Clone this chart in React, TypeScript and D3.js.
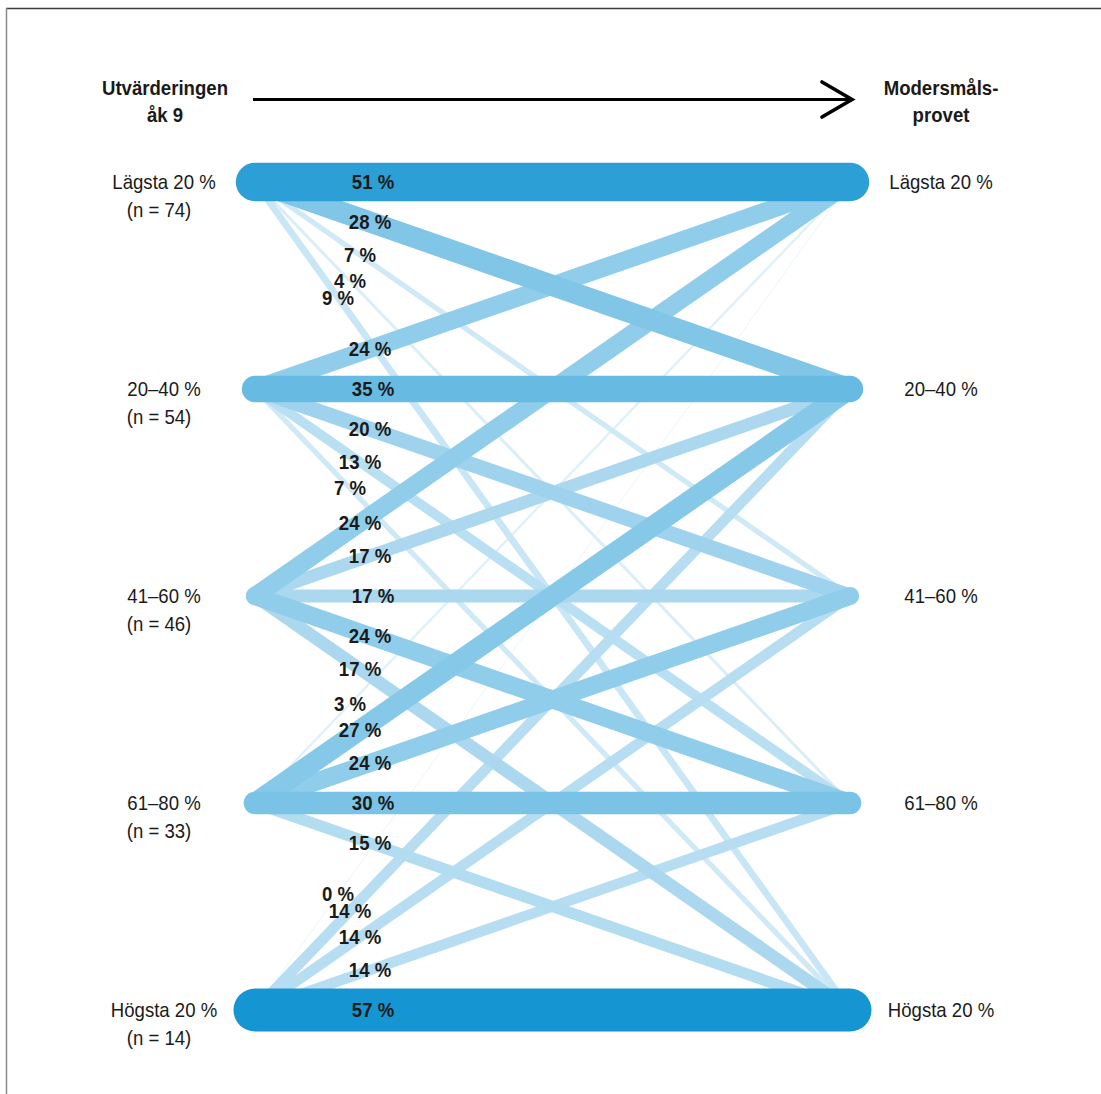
import React from "react";
import * as d3 from "d3";

const groups = ["Lägsta 20 %", "20–40 %", "41–60 %", "61–80 %", "Högsta 20 %"];
const sourceN = [74, 54, 46, 33, 14];
// flows[source][target] in percent
const flowLagsta = [51, 28, 7, 4, 9];
const flow2040 = [24, 35, 20, 13, 7];
const flow4160 = [24, 17, 17, 24, 17];
const flow6180 = [3, 27, 24, 30, 15];
const flowHogsta = [0, 14, 14, 14, 57];
const flows = [flowLagsta, flow2040, flow4160, flow6180, flowHogsta];

const leftTitle = ["Utvärderingen", "åk 9"];
const rightTitle = ["Modersmåls-", "provet"];

const W = 1101;
const H = 1094;
const FONT = "'Liberation Sans', Arial, 'DejaVu Sans', sans-serif";
const SX = 0.93;

// label horizontal offset from the left node, by number of steps between rows
const labelDx = [118, 115, 105, 95, 83];

function T({ x, y, children, bold = false, size = 20 }: any) {
  return (
    <text
      transform={`translate(${x},${y}) scale(${SX},1)`}
      textAnchor="middle"
      fontFamily={FONT}
      fontSize={size}
      fontWeight={bold ? "bold" : "normal"}
      fill="#1a1a1a"
    >
      {children}
    </text>
  );
}

export default function App() {
  const y = d3.scalePoint<string>().domain(groups).range([182, 1010]);
  const x = d3.scaleLinear().domain([0, 1]).range([255, 850]);
  const width = d3.scaleLinear().domain([0, 57]).range([0, 43]);
  const color = d3
    .scaleLinear<string>()
    .domain([0, 60])
    .range(["#eaf5fb", "#0a90d0"])
    .interpolate(d3.interpolateRgb);

  const links: any[] = [];
  flows.forEach((row, i) =>
    row.forEach((v, j) => {
      links.push({ i, j, v, order: links.length });
    })
  );
  const sorted = [...links].sort((a, b) => a.v - b.v || a.order - b.order);
  const line = d3.line<[number, number]>();

  return (
    <svg
      width={W}
      height={H}
      style={{ position: "absolute", left: 0, top: 0, background: "#fff" }}
    >
      <rect x={0} y={0} width={W} height={H} fill="#fff" />
      <line x1={6} y1={8.5} x2={W} y2={8.5} stroke="#3a3a3a" strokeWidth={1.5} />
      <line x1={6.5} y1={8} x2={6.5} y2={H} stroke="#8a8a8a" strokeWidth={1.5} />

      {/* header */}
      <T x={165} y={95} bold>{leftTitle[0]}</T>
      <T x={165} y={122} bold>{leftTitle[1]}</T>
      <T x={941} y={95} bold>{rightTitle[0]}</T>
      <T x={941} y={122} bold>{rightTitle[1]}</T>
      <line x1={253} y1={99.5} x2={852} y2={99.5} stroke="#000" strokeWidth={3.2} />
      <path
        d={line([
          [822, 82],
          [852, 99.5],
          [822, 117],
        ]) || ""}
        fill="none"
        stroke="#000"
        strokeWidth={3.6}
        strokeLinecap="round"
        strokeLinejoin="miter"
      />

      {/* links */}
      {sorted.map((l) => (
        <path
          key={`${l.i}-${l.j}`}
          d={line([
            [x(0), y(groups[l.i])!],
            [x(1), y(groups[l.j])!],
          ]) || ""}
          stroke={color(l.v)}
          strokeWidth={Math.max(width(l.v), 1)}
          strokeLinecap="round"
          fill="none"
        />
      ))}

      {/* percent labels */}
      {links.map((l) => {
        const y0 = y(groups[l.i])!;
        const y1 = y(groups[l.j])!;
        const dx = labelDx[Math.abs(l.j - l.i)];
        const lx = x(0) + dx;
        const ly = y0 + ((y1 - y0) * dx) / (x(1) - x(0));
        return (
          <T key={`t-${l.i}-${l.j}`} x={lx} y={ly + 7} bold>
            {`${l.v} %`}
          </T>
        );
      })}

      {/* left labels */}
      {groups.map((g, i) => (
        <g key={`l-${g}`}>
          <T x={164} y={y(g)! + 7}>{g}</T>
          <T x={159} y={y(g)! + 35}>{`(n = ${sourceN[i]})`}</T>
        </g>
      ))}
      {/* right labels */}
      {groups.map((g) => (
        <T key={`r-${g}`} x={941} y={y(g)! + 7}>{g}</T>
      ))}
    </svg>
  );
}
